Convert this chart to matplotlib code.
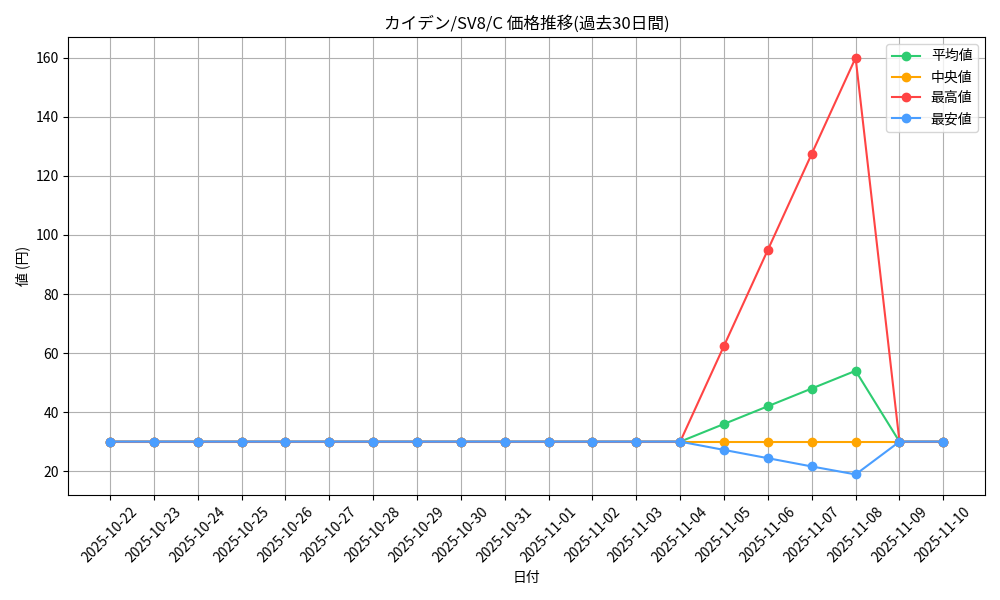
import matplotlib
matplotlib.use("Agg")
import matplotlib.pyplot as plt

plt.rcParams['font.family'] = ['Noto Sans CJK JP', 'DejaVu Sans']

dates = ["2025-10-22", "2025-10-23", "2025-10-24", "2025-10-25", "2025-10-26",
         "2025-10-27", "2025-10-28", "2025-10-29", "2025-10-30", "2025-10-31",
         "2025-11-01", "2025-11-02", "2025-11-03", "2025-11-04", "2025-11-05",
         "2025-11-06", "2025-11-07", "2025-11-08", "2025-11-09", "2025-11-10"]
avg_vals = [30] * 14 + [36, 42, 48, 54, 30, 30]
median_vals = [30] * 20
max_vals = [30] * 14 + [62.5, 95, 127.5, 160, 30, 30]
min_vals = [30] * 14 + [27.2, 24.4, 21.6, 18.9, 30, 30]

fig, ax = plt.subplots(figsize=(10, 6), dpi=100)

ax.plot(dates, avg_vals, marker='o', color='#2ecc71', label='平均値')
ax.plot(dates, median_vals, marker='o', color='#ffa500', label='中央値')
ax.plot(dates, max_vals, marker='o', color='#ff4444', label='最高値')
ax.plot(dates, min_vals, marker='o', color='#4a9eff', label='最安値')

ax.set_title('カイデン/SV8/C 価格推移(過去30日間)')
ax.set_xlabel('日付')
ax.set_ylabel('値 (円)')
ax.grid(True)
ax.legend(loc='upper right')
plt.xticks(rotation=45)
plt.tight_layout()
fig.savefig('out.png')
